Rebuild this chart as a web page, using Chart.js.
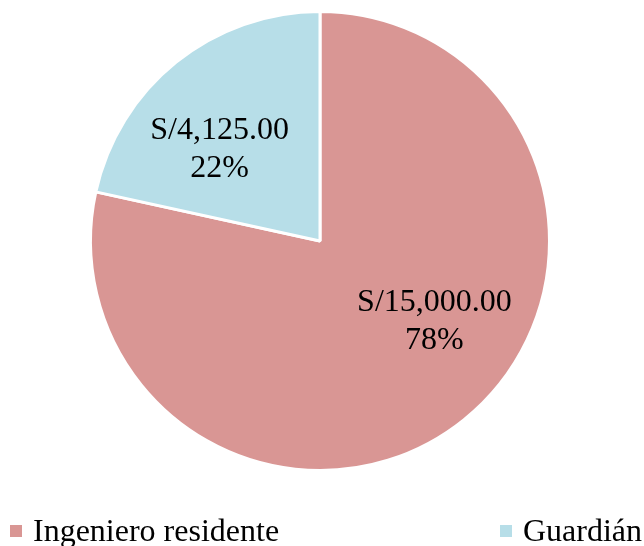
<!DOCTYPE html>
<html>
<head>
<meta charset="utf-8">
<script src="https://cdn.jsdelivr.net/npm/chart.js@4"></script>
<style>
  html, body { margin: 0; padding: 0; background: #fff; }
  #wrap { width: 644px; height: 546px; position: relative; }
</style>
</head>
<body>
<div id="wrap"><canvas id="pieChart"></canvas></div>
<script>
const labels = ['Ingeniero residente', 'Guardián'];
const amounts = [15000, 4125];
const colors = ['#D99694', '#B7DEE8'];

const font = '"Liberation Serif", "Times New Roman", serif';

function money(v) {
    return 'S/' + v.toLocaleString('en-US', { minimumFractionDigits: 2, maximumFractionDigits: 2 });
}

// labels inside the slices, two lines: amount and percent
const sliceLabels = {
    id: 'sliceLabels',
    afterDatasetsDraw(chart, args, opts) {
        const ctx = chart.ctx;
        const meta = chart.getDatasetMeta(0);
        const data = chart.data.datasets[0].data;
        const total = data.reduce((a, b) => a + b, 0);
        ctx.save();
        ctx.font = '32px ' + font;
        ctx.fillStyle = '#000';
        ctx.textAlign = 'center';
        ctx.textBaseline = 'middle';
        meta.data.forEach((arc, i) => {
            const p = arc.getProps(['x', 'y', 'startAngle', 'endAngle', 'outerRadius'], true);
            const mid = (p.startAngle + p.endAngle) / 2 + opts.shift[i] * Math.PI / 180;
            const r = p.outerRadius * opts.dist[i];
            const x = p.x + Math.cos(mid) * r;
            const y = p.y + Math.sin(mid) * r;
            const pct = Math.round(data[i] / total * 100) + '%';
            ctx.fillText(money(data[i]), x, y - 19);
            ctx.fillText(pct, x, y + 19);
        });
        ctx.restore();
    }
};

// legend drawn along the bottom edge
const bottomLegend = {
    id: 'bottomLegend',
    afterDraw(chart, args, opts) {
        const ctx = chart.ctx;
        ctx.save();
        ctx.font = '32px ' + font;
        ctx.textBaseline = 'alphabetic';
        ctx.textAlign = 'left';
        chart.data.labels.forEach((lab, i) => {
            const x = opts.xs[i];
            ctx.fillStyle = chart.data.datasets[0].backgroundColor[i];
            ctx.fillRect(x, opts.y - 16, 12, 12);
            ctx.fillStyle = '#000';
            ctx.fillText(lab, x + 23, opts.y);
        });
        ctx.restore();
    }
};

new Chart(document.getElementById('pieChart'), {
    type: 'pie',
    data: {
        labels: labels,
        datasets: [{
            data: amounts,
            backgroundColor: colors,
            borderColor: '#fff',
            borderWidth: 3
        }]
    },
    options: {
        responsive: true,
        maintainAspectRatio: false,
        animation: false,
        layout: { padding: { top: 10, bottom: 74, left: 0, right: 4 } },
        plugins: {
            legend: { display: false },
            tooltip: { enabled: false },
            sliceLabels: { shift: [-16, -9], dist: [0.61, 0.59] },
            bottomLegend: { xs: [10, 500], y: 541 }
        }
    },
    plugins: [sliceLabels, bottomLegend]
});
</script>
</body>
</html>
